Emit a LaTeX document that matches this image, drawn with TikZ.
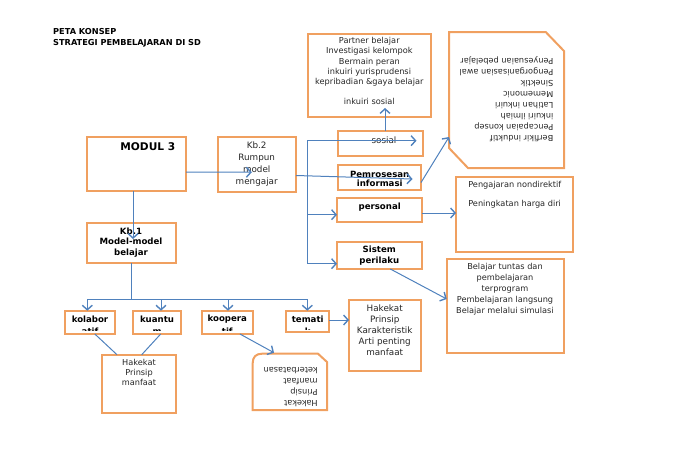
\documentclass[tikz,border=0pt]{standalone}
\usepackage{fontspec}
\setmainfont{DejaVu Sans}
\usetikzlibrary{arrows.meta}
\definecolor{boxor}{HTML}{F0A060}
\definecolor{connb}{HTML}{4F81BD}
\tikzset{
  boxn/.style={draw=boxor,line width=2pt,inner sep=0pt,outer sep=0pt},
  snipbox/.style={draw=boxor,line width=2pt,line join=miter},
  conn/.style={draw=connb,line width=1pt},
  arr/.style={conn,-{Straight Barb[length=4.5pt,width=10pt,line width=1.4pt]}},
  txt/.style={inner sep=0pt,outer sep=0pt,align=center,text=black!85,font=\fontsize{8.2}{#1}\selectfont},
  txt/.default=11,
  txtl/.style={inner sep=0pt,outer sep=0pt,align=center,text=black!85,font=\fontsize{8.8}{#1}\selectfont},
  txtl/.default=11,
  btxt/.style={inner sep=0pt,outer sep=0pt,align=center,text=black,font=\fontsize{8.6}{#1}\bfseries\selectfont},
  btxt/.default=10.5
}
\newcommand{\bx}[5]{\node[boxn,minimum width={(#4-#2)*1pt},minimum height={(#5-#3)*1pt}] (#1) at ({(#2+#4)/2},{(#3+#5)/2}) {};}
\begin{document}
\begin{tikzpicture}[x=1pt,y=-1pt]
\useasboundingbox (0,0) rectangle (700,456);
% boxes
\bx{modul}{87.3}{137}{186}{191}
\bx{kb2}{217.7}{136.7}{296}{191.7}
\bx{kb1}{87.3}{223}{176}{263}
\bx{topb}{307.7}{33.7}{430.7}{116.7}
\bx{sos}{338}{131}{423}{156}
\bx{pem}{338}{165}{421}{190}
\bx{per}{337}{197.7}{422}{222.3}
\bx{sis}{337}{241.7}{421.7}{269}
\bx{nond}{456}{176.7}{573}{251.7}
\bx{tuntas}{446.7}{259}{563.7}{353}
\bx{hak}{349}{300}{421}{371}
\bx{kol}{64.7}{310.7}{115}{334}
\bx{kua}{132.7}{310.7}{181.3}{334}
\bx{koo}{202}{310.7}{252.7}{334}
\bx{tem}{285.7}{310.7}{329}{332.3}
\bx{hpm}{102}{354.7}{176}{413}
% snipped shapes
\draw[snipbox] (449,32) -- (545.7,32) -- (564,51) -- (564,168) -- (468,168) -- (449,148) -- cycle;
\coordinate (snipin) at (449,137);
\draw[snipbox] (262,353.7) -- (318,353.7) -- (327,362) -- (327,410) -- (252.7,410) -- (252.7,363) .. controls (252.7,357) and (256,353.7) .. (262,353.7) -- cycle;
\coordinate (flipin) at (274,352.7);
% texts
\node[inner sep=0pt,anchor=base west,font=\fontsize{8.2}{9}\bfseries\selectfont] (title1) at (53,34.3) {PETA KONSEP};
\node[inner sep=0pt,anchor=base west,font=\fontsize{8.2}{9}\bfseries\selectfont] (title2) at (53,45.3) {STRATEGI PEMBELAJARAN DI SD};
\node[btxt,font=\fontsize{10.6}{12}\bfseries\selectfont] (tmodul) at (147.8,147) {MODUL 3};
\node[txtl=12] (tkb2) at (256.7,163.7) {Kb.2\\Rumpun\\model\\mengajar};
\node[btxt=10.5] (tkb1) at (131,242.5) {Kb.1\\Model-model\\belajar};
\node[txt=10.3] (ttop) at (369.3,62) {Partner belajar\\Investigasi kelompok\\Bermain peran\\inkuiri yurisprudensi\\kepribadian \&gaya belajar};
\node[txt] (tsosi) at (369.3,101.7) {inkuiri sosial};
\node[txtl] (tsos) at (384,140) {sosial};
\node[btxt=9.5] (tpem) at (379.7,178.8) {Pemrosesan\\informasi};
\node[btxt] (tper) at (379.7,206.7) {personal};
\node[btxt=11] (tsis) at (379.3,255.8) {Sistem\\perilaku};
\node[txt,anchor=west] (tnd1) at (468.3,185.7) {Pengajaran nondirektif};
\node[txt,anchor=west] (tnd2) at (468.3,204) {Peningkatan harga diri};
\node[txt=11] (ttun) at (505,289.7) {Belajar tuntas dan\\pembelajaran\\terprogram\\Pembelajaran langsung\\Belajar melalui simulasi};
\node[txtl=11] (thak) at (384.7,330) {Hakekat\\Prinsip\\Karakteristik\\Arti penting\\manfaat};
\node[txt=9.7] (thpm) at (139,372.3) {Hakekat\\Prinsip\\manfaat};
\node[txt=11,align=left,rotate=180,anchor=west] (tsnip) at (553.3,99.5) {Berfikir induktif\\Pencapaian konsep\\inkuiri ilmiah\\Latihan inkuiri\\Mememonic\\Sinektik\\Pengorganisasian awal\\Penyesuaian pebelajar};
\node[txt=11,align=left,rotate=180,anchor=west] (tflip) at (317.7,386.8) {Hakekat\\Prinsip\\manfaat\\keterbatasan};
\node[btxt] (tkol) at (90,319.3) {kolabor};
\node[btxt] (tkua) at (157,319.3) {kuantu};
\node[btxt] (tkoo) at (227.3,319.3) {koopera};
\node[btxt] (ttem) at (307.7,319.3) {temati};
\begin{scope}
\clip (60,300) rectangle (270,330.6);
\node[btxt,anchor=base] (tkol2) at (90,334.5) {atif};
\node[btxt,anchor=base] (tkua2) at (157,334.5) {m};
\node[btxt,anchor=base] (tkoo2) at (227.3,334.5) {tif};
\end{scope}
\begin{scope}
\clip (280,300) rectangle (335,329.4);
\node[btxt,anchor=base] (ttem2) at (307.7,334.5) {k};
\end{scope}
% connectors, right side
\draw[arr] ([yshift=-8pt]modul.east) -- ([xshift=-5pt,yshift=-8pt]kb2.center);
\draw[arr] ([xshift=-3.6pt]modul.south) -- ([xshift=1.4pt,yshift=-16pt]kb1.north);
\draw[arr] ([yshift=-11.3pt]kb2.east) -- ([xshift=33pt,yshift=-1.5pt]pem.center);
\coordinate (busT) at (307.3,140.7);
\coordinate (busM) at (307.3,214.7);
\coordinate (busB) at (307.3,263.7);
\draw[conn] (busT) -- (busB);
\draw[arr] (busT) -- ([xshift=36pt,yshift=2.8pt]sos.center);
\draw[arr] (busM) -- (busM -| per.west);
\draw[arr] (busB) -- (busB -| sis.west);
\draw[arr] ([xshift=4.5pt]sos.north) -- ([xshift=15.8pt,yshift=8.7pt]topb.south);
\draw[arr] ([yshift=-5pt]pem.east) -- (snipin);
\draw[arr] ([yshift=-3pt]per.east) -- ([yshift=1.2pt]nond.west);
\draw[arr] ([xshift=11pt]sis.south) -- (tuntas.west |- {(0,299)});
% connectors, lower part
\coordinate (hbL) at (87.3,299);
\coordinate (hbR) at (307.3,299);
\draw[conn] (kb1.south) -- (kb1.south |- hbL);
\draw[conn] (hbL) -- (hbR);
\draw[arr] (hbL) -- (hbL |- kol.north);
\coordinate (hbK) at (161,299);
\draw[arr] (hbK) -- (hbK |- kua.north);
\coordinate (hbO) at (228,299);
\draw[arr] (hbO) -- (hbO |- koo.north);
\draw[arr] (hbR) -- (hbR |- tem.north);
\draw[arr] ([yshift=1.5pt]tem.east) -- ([yshift=1.5pt]tem.east -| hak.west);
\draw[conn] ([xshift=5pt]kol.south) -- ([xshift=-22pt]hpm.north);
\draw[conn] ([xshift=3.7pt]kua.south) -- ([xshift=2.7pt]hpm.north);
\draw[arr] ([xshift=12.6pt]koo.south) -- (flipin);
\end{tikzpicture}
\end{document}
